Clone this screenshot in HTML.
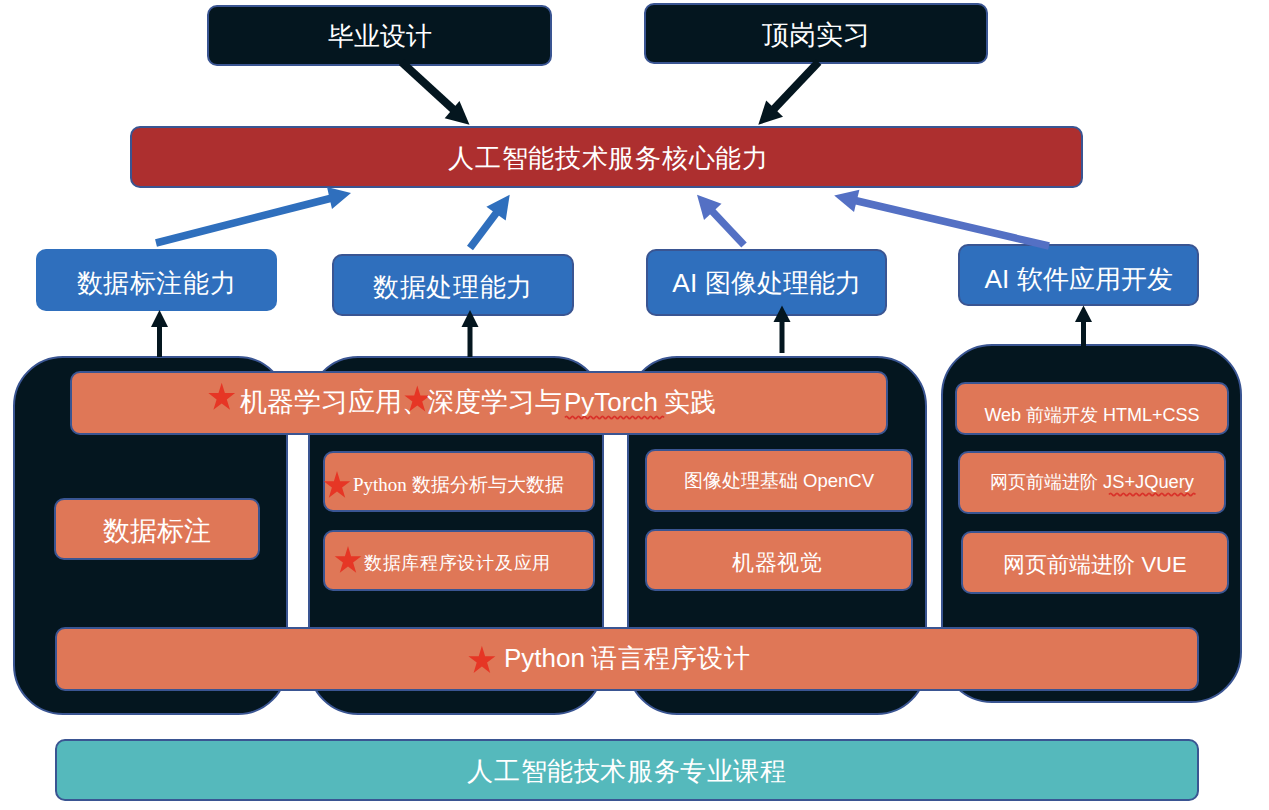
<!DOCTYPE html>
<html><head><meta charset="utf-8">
<style>
html,body{margin:0;padding:0;background:#fff;width:1269px;height:810px;overflow:hidden;position:relative;font-family:"Liberation Sans",sans-serif;}
.b{position:absolute;box-sizing:border-box;border:2.4px solid #3a5592;border-radius:10px;}
.k{background:#04161f;}
.r{background:#ad2f2f;}
.bl{background:#2f6fbd;border-width:2px;}
.col{background:#04161f;border-radius:50px;}
.o{background:#df7757;}
.t{background:#55b9bc;}
.tx{position:absolute;white-space:nowrap;color:#fff;line-height:1;}
.c{display:flex;align-items:center;justify-content:center;}
.star{position:absolute;color:#e8392a;line-height:1;}
svg{position:absolute;left:0;top:0;}
</style></head><body>
<!-- top black boxes -->
<div class="b k" style="left:207px;top:4.5px;width:345px;height:61px;"></div>
<div class="b k" style="left:644px;top:3px;width:344px;height:61px;"></div>
<!-- red bar -->
<div class="b r" style="left:130px;top:126px;width:953px;height:62px;"></div>
<!-- blue boxes -->
<div class="b bl" style="left:36px;top:249px;width:241px;height:62px;border:none;"></div>
<div class="b bl" style="left:332px;top:254px;width:242px;height:62px;"></div>
<div class="b bl" style="left:646px;top:249px;width:241px;height:67px;"></div>
<div class="b bl" style="left:958px;top:244px;width:241px;height:62px;"></div>
<!-- columns -->
<div class="b col" style="left:13px;top:356px;width:275px;height:359px;"></div>
<div class="b col" style="left:308px;top:356px;width:296px;height:359px;"></div>
<div class="b col" style="left:627px;top:356px;width:300px;height:359px;"></div>
<div class="b col" style="left:941px;top:344px;width:301px;height:359px;border-radius:51px;"></div>
<!-- orange -->
<div class="b o" style="left:70px;top:370.8px;width:818px;height:64.7px;"></div>
<div class="b o" style="left:54px;top:498px;width:206px;height:62px;"></div>
<div class="b o" style="left:323px;top:451px;width:272px;height:61px;"></div>
<div class="b o" style="left:323px;top:530px;width:272px;height:61px;"></div>
<div class="b o" style="left:645px;top:449px;width:268px;height:63px;"></div>
<div class="b o" style="left:645px;top:529px;width:268px;height:62px;"></div>
<div class="b o" style="left:955px;top:382px;width:274px;height:53px;"></div>
<div class="b o" style="left:958px;top:451px;width:268px;height:63px;"></div>
<div class="b o" style="left:961px;top:531px;width:268px;height:63px;"></div>
<div class="b o" style="left:55px;top:626.5px;width:1144px;height:64.7px;"></div>
<!-- teal -->
<div class="b t" style="left:55px;top:739px;width:1144px;height:62px;"></div>

<svg width="1269" height="810" viewBox="0 0 1269 810">
  <!-- black arrows top -->
  <g fill="#04161f" stroke="none">
    <line x1="401.5" y1="62" x2="455" y2="111" stroke="#04161f" stroke-width="8"/>
    <polygon points="469.5,124.8 459.5,101 444.7,118.2"/>
    <line x1="818.5" y1="62" x2="773" y2="110" stroke="#04161f" stroke-width="8"/>
    <polygon points="758.3,124.7 766.2,100.5 783,116.8"/>
  </g>
  <!-- blue arrows -->
  <g>
    <line x1="156" y1="243" x2="332" y2="198" stroke="#2f6fbd" stroke-width="7.5"/>
    <polygon points="351,193 327,187 332,209" fill="#2f6fbd"/>
    <line x1="470" y1="248" x2="497" y2="212" stroke="#2f6fbd" stroke-width="7.5"/>
    <polygon points="509.7,194.8 486.4,206.7 505.7,220.5" fill="#2f6fbd"/>
    <line x1="744" y1="245" x2="712" y2="211" stroke="#5470c4" stroke-width="7.5"/>
    <polygon points="697,194.8 721.5,203.7 704,220" fill="#5470c4"/>
    <line x1="1049" y1="246" x2="853" y2="200" stroke="#5470c4" stroke-width="7.5"/>
    <polygon points="834.2,195.4 859.4,189.8 854,212" fill="#5470c4"/>
  </g>
  <!-- black vertical arrows -->
  <g fill="#04161f">
    <rect x="157" y="325" width="5" height="32"/>
    <polygon points="159.5,310 151,327 168,327"/>
    <rect x="467.5" y="325" width="5" height="32"/>
    <polygon points="470,310 461.5,327 478.5,327"/>
    <rect x="779.5" y="320" width="5" height="33"/>
    <polygon points="782,305.5 773.5,322 790.5,322"/>
    <rect x="1081" y="320" width="5" height="26"/>
    <polygon points="1083.5,305.5 1075,322 1092,322"/>
  </g>
</svg>

<!-- texts -->
<div class="tx c" style="left:207px;top:5.5px;width:345px;height:61px;font-size:26.3px;">毕业设计</div>
<div class="tx c" style="left:644px;top:4.8px;width:344px;height:61px;font-size:26.5px;">顶岗实习</div>
<div class="tx c" style="left:132px;top:127.5px;width:953px;height:61px;font-size:26px;letter-spacing:0.7px;">人工智能技术服务核心能力</div>
<div class="tx c" style="left:36px;top:251.5px;width:241px;height:62px;font-size:26px;letter-spacing:0.6px;">数据标注能力</div>
<div class="tx c" style="left:332px;top:255.5px;width:242px;height:62px;font-size:26px;letter-spacing:0.7px;">数据处理能力</div>
<div class="tx c" style="left:646px;top:250px;width:241px;height:67px;font-size:26.4px;">AI 图像处理能力</div>
<div class="tx c" style="left:958px;top:247.8px;width:241px;height:62px;font-size:26.3px;">AI 软件应用开发</div>

<svg width="1269" height="810" viewBox="0 0 1269 810" style="z-index:2">
<g fill="#e63625">
<polygon points="221.7,382.7 224.9,393.0 235.1,393.0 226.8,399.4 230.0,409.7 221.7,403.4 213.4,409.7 216.6,399.4 208.3,393.0 218.5,393.0"/>
<polygon points="337.0,471.0 340.1,481.3 350.3,481.3 342.1,487.6 345.2,497.8 337.0,491.5 328.8,497.8 331.9,487.6 323.7,481.3 333.9,481.3"/>
<polygon points="348.0,546.0 351.1,556.3 361.3,556.3 353.1,562.6 356.2,572.8 348.0,566.5 339.8,572.8 342.9,562.6 334.7,556.3 344.9,556.3"/>
<polygon points="481.9,645.8 485.1,656.2 495.4,656.2 487.1,662.6 490.2,673.0 481.9,666.6 473.6,673.0 476.7,662.6 468.4,656.2 478.7,656.2"/>
</g>
<g fill="none" stroke="#d9322a" stroke-width="1.7">
<path d="M565.0,417.5 Q566.5,415.1 568.0,417.5 Q569.5,419.9 571.0,417.5 Q572.5,415.1 574.0,417.5 Q575.5,419.9 577.0,417.5 Q578.5,415.1 580.0,417.5 Q581.5,419.9 583.0,417.5 Q584.5,415.1 586.0,417.5 Q587.5,419.9 589.0,417.5 Q590.5,415.1 592.0,417.5 Q593.5,419.9 595.0,417.5 Q596.5,415.1 598.0,417.5 Q599.5,419.9 601.0,417.5 Q602.5,415.1 604.0,417.5 Q605.5,419.9 607.0,417.5 Q608.5,415.1 610.0,417.5 Q611.5,419.9 613.0,417.5 Q614.5,415.1 616.0,417.5 Q617.5,419.9 619.0,417.5 Q620.5,415.1 622.0,417.5 Q623.5,419.9 625.0,417.5 Q626.5,415.1 628.0,417.5 Q629.5,419.9 631.0,417.5 Q632.5,415.1 634.0,417.5 Q635.5,419.9 637.0,417.5 Q638.5,415.1 640.0,417.5 Q641.5,419.9 643.0,417.5 Q644.5,415.1 646.0,417.5 Q647.5,419.9 649.0,417.5 Q650.5,415.1 652.0,417.5 Q653.5,419.9 655.0,417.5 Q656.5,415.1 658.0,417.5 Q659.5,419.9 661.0,417.5 Q662.5,415.1 664.0,417.5"/>
<path d="M1109.0,494.5 Q1110.6,492.1 1112.2,494.5 Q1113.8,496.9 1115.4,494.5 Q1117.0,492.1 1118.6,494.5 Q1120.2,496.9 1121.8,494.5 Q1123.4,492.1 1125.0,494.5 Q1126.6,496.9 1128.2,494.5 Q1129.8,492.1 1131.4,494.5 Q1133.0,496.9 1134.6,494.5 Q1136.2,492.1 1137.8,494.5 Q1139.4,496.9 1141.0,494.5 Q1142.6,492.1 1144.2,494.5 Q1145.8,496.9 1147.4,494.5 Q1149.0,492.1 1150.6,494.5 Q1152.2,496.9 1153.8,494.5 Q1155.4,492.1 1157.0,494.5 Q1158.6,496.9 1160.2,494.5 Q1161.8,492.1 1163.4,494.5 Q1165.0,496.9 1166.6,494.5 Q1168.2,492.1 1169.8,494.5 Q1171.4,496.9 1173.0,494.5 Q1174.6,492.1 1176.2,494.5 Q1177.8,496.9 1179.4,494.5 Q1181.0,492.1 1182.6,494.5 Q1184.2,496.9 1185.8,494.5 Q1187.4,492.1 1189.0,494.5 Q1190.6,496.9 1192.2,494.5 Q1193.8,492.1 1195.4,494.5"/>
</g>
</svg>
<div class="tx" style="left:240px;top:389px;font-size:26.5px;z-index:3">机器学习应用、</div>
<svg width="1269" height="810" viewBox="0 0 1269 810" style="z-index:4"><g fill="#e63625">
<polygon points="417.3,385.5 420.4,395.5 430.2,395.5 422.2,401.6 425.3,411.6 417.3,405.4 409.3,411.6 412.4,401.6 404.4,395.5 414.2,395.5"/>
</g></svg>
<div class="tx" style="left:427px;top:389px;font-size:26.5px;z-index:5">深度学习与</div>
<div class="tx" style="left:564px;top:389px;font-size:26px;letter-spacing:0px;z-index:5">PyTorch</div>
<div class="tx" style="left:664px;top:389px;font-size:26px;z-index:5">实践</div>

<div class="tx c" style="left:54px;top:500.5px;width:206px;height:62px;font-size:26.9px;">数据标注</div>

<div class="tx" style="left:353px;top:474.8px;font-size:19px;font-family:'Liberation Serif',serif;z-index:3">Python 数据分析与大数据</div>
<div class="tx" style="left:364px;top:554px;font-size:18px;letter-spacing:0.7px;font-family:'Liberation Serif',serif;z-index:3">数据库程序设计及应用</div>

<div class="tx c" style="left:645px;top:450px;width:268px;height:63px;font-size:18.5px;">图像处理基础 OpenCV</div>
<div class="tx c" style="left:643.5px;top:531.5px;width:268px;height:62px;font-size:22px;letter-spacing:0.7px;">机器视觉</div>

<div class="tx c" style="left:955px;top:392.5px;width:274px;height:45px;font-size:18px;">Web 前端开发 HTML+CSS</div>
<div class="tx c" style="left:958px;top:451px;width:268px;height:63px;font-size:18.3px;">网页前端进阶 JS+JQuery</div>
<div class="tx c" style="left:961px;top:533px;width:268px;height:63px;font-size:22px;">网页前端进阶 VUE</div>

<div class="tx" style="left:504px;top:645px;font-size:26px;letter-spacing:0px;z-index:3">Python</div>
<div class="tx" style="left:591px;top:645px;font-size:26px;letter-spacing:0.6px;z-index:3">语言程序设计</div>

<div class="tx c" style="left:55px;top:740px;width:1144px;height:62px;font-size:26px;letter-spacing:0.6px;">人工智能技术服务专业课程</div>
</body></html>
